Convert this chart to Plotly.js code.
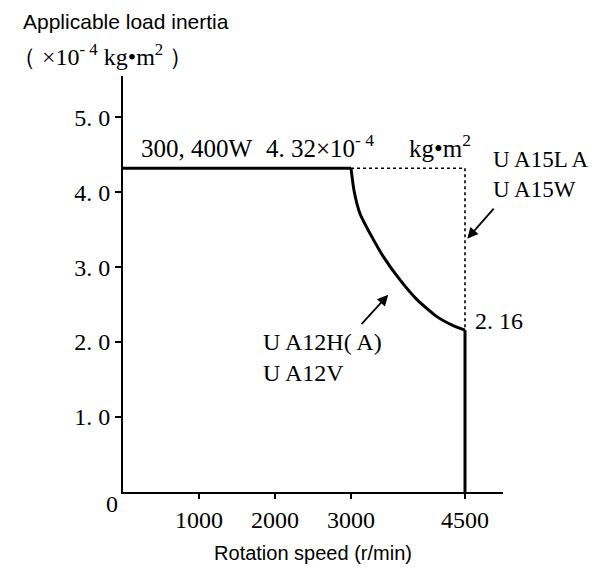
<!DOCTYPE html>
<html>
<head>
<meta charset="utf-8">
<script src="https://cdn.plot.ly/plotly-3.0.1.min.js"></script>
<style>html,body{margin:0;padding:0;background:#fff;}#chart{width:597px;height:569px;}</style>
</head>
<body>
<div id="chart"></div>
<script>
// Main characteristic (UA12H(A) / UA12V): flat at 4.32 up to 3000 r/min, falling to 2.16 at 4500
var mainSpeed   = [0, 3000, 3040, 3120, 3250, 3425, 3645, 3865, 4130, 4345, 4500, 4500];
var mainInertia = [4.32, 4.32, 4.02, 3.71, 3.45, 3.14, 2.83, 2.57, 2.34, 2.22, 2.16, 0];
// UA15LA / UA15W: stays at 4.32 up to 4500 r/min (dotted)
var dotSpeed   = [3000, 4500, 4500];
var dotInertia = [4.32, 4.32, 2.16];
// Axis ticks
var xTickVals = [1000, 2000, 3000, 4500];
var xTickText = ['1000', '2000', '3000', '4500'];
var yTickVals = [1, 2, 3, 4, 5];
var yTickText = ['1. 0', '2. 0', '3. 0', '4. 0', '5. 0'];

var SERIF = 'Liberation Serif, DejaVu Serif, serif';
var SANS = 'Liberation Sans, Arial, sans-serif';

var n = mainSpeed.length;
var lineStyle = {color: '#000', width: 3};
var traces = [
  {x: dotSpeed, y: dotInertia, mode: 'lines', line: {color: '#000', width: 1.6, dash: 'dot'}, hoverinfo: 'skip', cliponaxis: false},
  // flat part
  {x: mainSpeed.slice(0, 2), y: mainInertia.slice(0, 2), mode: 'lines', line: lineStyle, hoverinfo: 'skip', cliponaxis: false},
  // falling curve
  {x: mainSpeed.slice(1, n - 1), y: mainInertia.slice(1, n - 1), mode: 'lines',
   line: {color: '#000', width: 3, shape: 'spline', smoothing: 0.6}, hoverinfo: 'skip', cliponaxis: false},
  // vertical drop at 4500
  {x: mainSpeed.slice(n - 2), y: mainInertia.slice(n - 2), mode: 'lines', line: lineStyle, hoverinfo: 'skip', cliponaxis: false}
];

var layout = {
  width: 597, height: 569,
  margin: {l: 123, r: 94, t: 76, b: 77},
  paper_bgcolor: '#fff', plot_bgcolor: '#fff',
  showlegend: false,
  xaxis: {
    range: [0, 5000], showgrid: false, zeroline: false,
    showline: true, linecolor: '#000', linewidth: 2,
    ticks: 'outside', ticklen: 5, tickwidth: 1.5, tickcolor: '#000',
    tickvals: xTickVals, ticktext: xTickText,
    tickfont: {family: SERIF, size: 24, color: '#000'},
    title: {text: 'Rotation speed (r/min)', font: {family: SANS, size: 20, color: '#000'}, standoff: 14},
    automargin: false, fixedrange: true
  },
  yaxis: {
    range: [0, 5.55], showgrid: false, zeroline: false,
    showline: true, linecolor: '#000', linewidth: 2,
    ticks: 'outside', ticklen: 6, tickwidth: 1.5, tickcolor: '#000',
    tickvals: yTickVals, ticktext: yTickText,
    tickfont: {family: SERIF, size: 24, color: '#000'},
    automargin: false, fixedrange: true
  },
  annotations: [
    {xref: 'paper', yref: 'paper', x: -0.268, y: 1.13, xanchor: 'left', yanchor: 'middle', showarrow: false,
     text: 'Applicable load inertia', font: {family: SANS, size: 21, color: '#000'}},
    {xref: 'paper', yref: 'paper', x: -0.298, y: 1.051, xanchor: 'left', yanchor: 'middle', showarrow: false,
     text: '（ ×10<sup>- 4</sup> kg•m<sup>2</sup> ）', font: {family: SERIF, size: 24, color: '#000'}},
    {x: 0, y: 0, xanchor: 'right', yanchor: 'top', xshift: -3, yshift: 3, showarrow: false,
     text: '0', font: {family: SERIF, size: 24, color: '#000'}},
    {x: 210, y: 4.32, xanchor: 'left', yanchor: 'bottom', yshift: 4, showarrow: false,
     text: '300, 400W', font: {family: SERIF, size: 25, color: '#000'}},
    {x: 1860, y: 4.32, xanchor: 'left', yanchor: 'bottom', yshift: 4, showarrow: false,
     text: '4. 32×10<sup>- 4</sup>', font: {family: SERIF, size: 25, color: '#000'}},
    {x: 3740, y: 4.32, xanchor: 'left', yanchor: 'bottom', yshift: 4, showarrow: false,
     text: 'kg•m<sup>2</sup>', font: {family: SERIF, size: 25, color: '#000'}},
    {x: 4840, y: 4.23, xanchor: 'left', yanchor: 'middle', align: 'left', showarrow: false,
     text: 'U A15L A<br>U A15W', font: {family: SERIF, size: 23, color: '#000'}},
    {x: 4600, y: 2.28, xanchor: 'left', yanchor: 'middle', showarrow: false,
     text: '2. 16', font: {family: SERIF, size: 24, color: '#000'}},
    {x: 1820, y: 1.80, xanchor: 'left', yanchor: 'middle', align: 'left', showarrow: false,
     text: 'U A12H( A)<br>U A12V', font: {family: SERIF, size: 24, color: '#000'}},
    {x: 4530, y: 3.38, ax: 4895, ay: 3.80, axref: 'x', ayref: 'y', text: '', showarrow: true,
     arrowhead: 2, arrowsize: 1.2, arrowwidth: 1.8, arrowcolor: '#000'},
    {x: 3490, y: 2.63, ax: 3120, ay: 2.22, axref: 'x', ayref: 'y', text: '', showarrow: true,
     arrowhead: 2, arrowsize: 1.2, arrowwidth: 1.8, arrowcolor: '#000'}
  ]
};

Plotly.newPlot('chart', traces, layout, {staticPlot: true, displayModeBar: false});
</script>
</body>
</html>
